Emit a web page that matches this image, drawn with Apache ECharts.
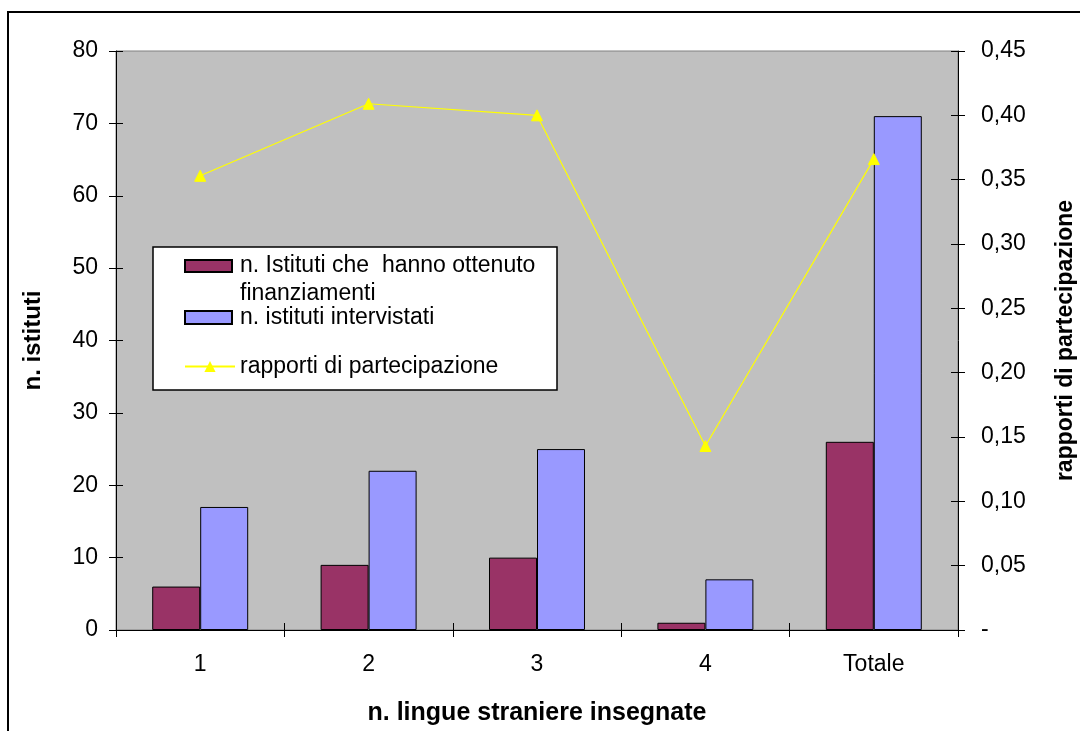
<!DOCTYPE html>
<html>
<head>
<meta charset="utf-8">
<script src="https://cdn.jsdelivr.net/npm/echarts@6/dist/echarts.min.js"></script>
<style>
html,body{margin:0;padding:0;background:#fff;}
#chart{width:1080px;height:731px;}
</style>
</head>
<body>
<div id="chart"></div>
<script>
const categories = ['1', '2', '3', '4', 'Totale'];
const finanziati = [6, 9, 10, 1, 26];
const intervistati = [17, 22, 25, 7, 71];
const rapporti = [0.353, 0.409, 0.400, 0.143, 0.366];
const seriesNames = ['n. Istituti che  hanno ottenuto\nfinanziamenti', 'n. istituti intervistati', 'rapporti di partecipazione'];
const leftTicks = {min: 0, max: 80, interval: 10};
const rightTicks = {min: 0, max: 0.45, interval: 0.05};

const FONT = 'Liberation Sans, Arial, sans-serif';
const FS = 23;
const rightFmt = v => v === 0 ? '-' : v.toFixed(2).replace('.', ',');
const chart = echarts.init(document.getElementById('chart'));

function tickOnlyY(r, pos) {
  return {type: 'value', min: r.min, max: r.max, interval: r.interval, position: pos,
    axisLine: {show: false}, axisLabel: {show: false}, splitLine: {show: false},
    axisTick: {show: true, inside: true, length: 7, lineStyle: {color: '#000'}}};
}

const option = {
  backgroundColor: '#fff',
  animation: false,
  textStyle: {fontFamily: FONT, color: '#000'},
  grid: {left: 116, right: 122, top: 51, bottom: 101, containLabel: false, outerBoundsMode: 'none',
         show: true, backgroundColor: '#C0C0C0', borderColor: '#808080', borderWidth: 1},
  graphic: [
    {type: 'rect', shape: {x: 8, y: 12, width: 1100, height: 800}, style: {fill: 'none', stroke: '#000', lineWidth: 2}, silent: true, z: 100},
    {type: 'rect', shape: {x: 153, y: 247, width: 404, height: 143}, style: {fill: '#fff', stroke: '#000', lineWidth: 1.5}, z: 0}
  ],
  legend: [
    {data: [{name: seriesNames[0], icon: 'path://M0,0L47,0L47,12L0,12ZM50,40L50,40'}],
     left: 179, top: 247, itemWidth: 50, itemHeight: 40, z: 10,
     textStyle: {fontFamily: FONT, fontSize: FS, color: '#000', lineHeight: 28}},
    {data: [{name: seriesNames[1], icon: 'path://M0,0L47,0L47,13L0,13ZM50,13L50,13'}],
     left: 179, top: 301, itemWidth: 50, itemHeight: 13, z: 10,
     textStyle: {fontFamily: FONT, fontSize: FS, color: '#000'}},
    {data: [seriesNames[2]], left: 179, top: 350, itemWidth: 50, itemHeight: 14, z: 10,
     textStyle: {fontFamily: FONT, fontSize: FS, color: '#000'}}
  ],
  xAxis: [
    {type: 'category', data: categories,
     axisLine: {lineStyle: {color: '#000', width: 1}},
     axisTick: {show: true, length: 7, lineStyle: {color: '#000'}},
     axisLabel: {fontFamily: FONT, fontSize: FS, color: '#000', margin: 23},
     name: 'n. lingue straniere insegnate', nameLocation: 'middle', nameGap: 71,
     nameTextStyle: {fontFamily: FONT, fontSize: 25, fontWeight: 'bold', color: '#000'}},
    {type: 'category', data: categories, position: 'bottom',
     axisLine: {show: false}, axisLabel: {show: false},
     axisTick: {show: true, inside: true, length: 7, lineStyle: {color: '#000'}}}
  ],
  yAxis: [
    {type: 'value', min: leftTicks.min, max: leftTicks.max, interval: leftTicks.interval,
     axisLine: {show: true, lineStyle: {color: '#000'}},
     axisTick: {show: true, length: 7, lineStyle: {color: '#000'}},
     splitLine: {show: false},
     axisLabel: {fontFamily: FONT, fontSize: FS, color: '#000', margin: 18},
     name: 'n. istituti', nameLocation: 'middle', nameGap: 71, nameRotate: 90,
     nameTextStyle: {fontFamily: FONT, fontSize: 24, fontWeight: 'bold', color: '#000'}},
    {type: 'value', min: rightTicks.min, max: rightTicks.max, interval: rightTicks.interval, position: 'right',
     axisLine: {show: true, lineStyle: {color: '#000'}},
     axisTick: {show: true, length: 7, lineStyle: {color: '#000'}},
     splitLine: {show: false},
     axisLabel: {fontFamily: FONT, fontSize: FS, color: '#000', margin: 23, formatter: rightFmt},
     name: 'rapporti di partecipazione', nameLocation: 'middle', nameGap: 96, nameRotate: 90,
     nameTextStyle: {fontFamily: FONT, fontSize: 23, fontWeight: 'bold', color: '#000'}},
    tickOnlyY(leftTicks, 'left'),
    tickOnlyY(rightTicks, 'right')
  ],
  series: [
    {name: seriesNames[0], type: 'bar', data: finanziati, barGap: '0%', barCategoryGap: '43%',
     itemStyle: {color: '#993366', borderColor: '#000', borderWidth: 1}},
    {name: seriesNames[1], type: 'bar', data: intervistati, barGap: '0%', barCategoryGap: '43%',
     itemStyle: {color: '#9999FF', borderColor: '#000', borderWidth: 1}},
    {name: seriesNames[2], type: 'line', yAxisIndex: 1, data: rapporti, z: 5,
     symbol: 'triangle', symbolSize: 11,
     lineStyle: {color: '#FFFF00', width: 1.2},
     itemStyle: {color: '#FFFF00', borderColor: '#FFFF00'}}
  ]
};
chart.setOption(option);
</script>
</body>
</html>
